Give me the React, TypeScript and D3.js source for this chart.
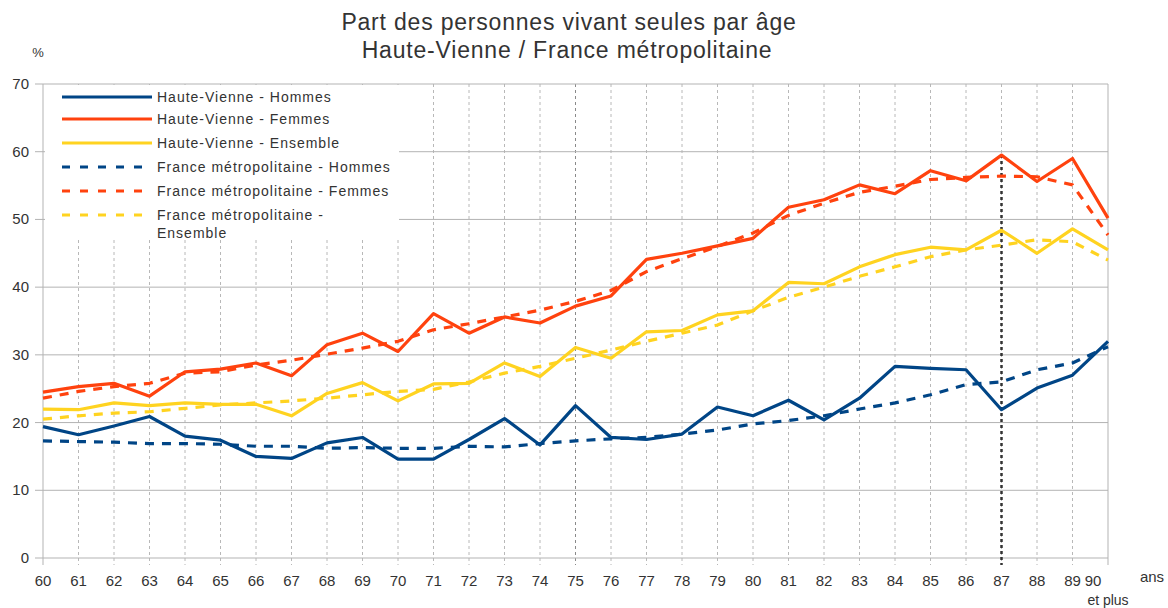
import * as d3 from 'd3'

const ages = d3.range(60, 91)
const yTicks = [0, 10, 20, 30, 40, 50, 60, 70]

const hvHommes = [19.4, 18.2, 19.5, 20.9, 18.0, 17.4, 15.0, 14.7, 17.0, 17.8, 14.6, 14.6, 17.5, 20.6, 16.7, 22.5, 17.8, 17.5, 18.3, 22.3, 21.0, 23.3, 20.4, 23.6, 28.3, 28.0, 27.8, 21.9, 25.1, 27.0, 32.0]
const hvFemmes = [24.5, 25.3, 25.8, 23.9, 27.5, 27.9, 28.8, 26.9, 31.5, 33.2, 30.5, 36.1, 33.2, 35.6, 34.7, 37.2, 38.7, 44.1, 45.0, 46.1, 47.2, 51.8, 52.9, 55.1, 53.8, 57.2, 55.7, 59.5, 55.6, 59.0, 50.2]
const hvEnsemble = [22.0, 21.9, 22.9, 22.5, 22.9, 22.7, 22.7, 21.0, 24.3, 25.9, 23.2, 25.7, 25.8, 28.8, 26.8, 31.1, 29.5, 33.4, 33.6, 35.9, 36.5, 40.7, 40.5, 43.0, 44.8, 45.9, 45.5, 48.4, 45.0, 48.6, 45.5]
const frHommes = [17.3, 17.2, 17.1, 16.9, 16.9, 16.8, 16.5, 16.5, 16.2, 16.3, 16.2, 16.2, 16.5, 16.4, 16.9, 17.3, 17.6, 17.8, 18.3, 18.9, 19.8, 20.3, 21.0, 22.0, 22.9, 24.1, 25.6, 26.0, 27.8, 28.8, 31.2]
const frFemmes = [23.6, 24.6, 25.3, 25.8, 27.3, 27.5, 28.5, 29.2, 30.1, 31.0, 32.0, 33.7, 34.6, 35.6, 36.6, 37.9, 39.5, 42.3, 44.2, 46.0, 48.0, 50.6, 52.4, 54.0, 54.9, 55.9, 56.2, 56.4, 56.3, 55.1, 47.7]
const frEnsemble = [20.5, 21.0, 21.4, 21.6, 22.1, 22.6, 22.9, 23.2, 23.6, 24.1, 24.6, 24.9, 26.0, 27.3, 28.3, 29.5, 30.7, 32.0, 33.2, 34.4, 36.5, 38.5, 40.0, 41.6, 43.0, 44.5, 45.5, 46.2, 47.0, 46.7, 44.0]

const series = [
  { name: 'Haute-Vienne - Hommes', values: hvHommes, color: '#004586', dashed: false },
  { name: 'Haute-Vienne - Femmes', values: hvFemmes, color: '#ff420e', dashed: false },
  { name: 'Haute-Vienne - Ensemble', values: hvEnsemble, color: '#ffd320', dashed: false },
  { name: 'France métropolitaine - Hommes', values: frHommes, color: '#004586', dashed: true },
  { name: 'France métropolitaine - Femmes', values: frFemmes, color: '#ff420e', dashed: true },
  { name: 'France métropolitaine -\nEnsemble', values: frEnsemble, color: '#ffd320', dashed: true }
]

const markedAge = 87
const font = '"Liberation Sans", Arial, sans-serif'

export default function App() {
  const width = 1168
  const height = 608
  const x = d3.scaleLinear().domain([60, 90]).range([43, 1108])
  const y = d3.scaleLinear().domain([0, 70]).range([558, 84])

  const line = d3
    .line<number>()
    .x((_, i) => x(ages[i]))
    .y(d => y(d))

  const markIdx = ages.indexOf(markedAge)
  const markTop = d3.max(series, s => s.values[markIdx]) as number

  // dashed series first so the solid ones sit on top
  const drawOrder = [...series.filter(s => s.dashed), ...series.filter(s => !s.dashed)]

  return (
    <svg width={width} height={height} style={{ position: 'absolute', left: 0, top: 0, background: '#fff' }} fontFamily={font}>
      <text x={569} y={30} textAnchor="middle" fontSize={23} letterSpacing={0.8} fill="#333">Part des personnes vivant seules par âge</text>
      <text x={567} y={58} textAnchor="middle" fontSize={23} letterSpacing={0.8} fill="#333">Haute-Vienne / France métropolitaine</text>
      <text x={38} y={57} textAnchor="middle" fontSize={13} fill="#333">%</text>

      {/* vertical grid */}
      {ages.slice(1, -1).map(a => (
        <line key={'v' + a} x1={x(a)} x2={x(a)} y1={y(70)} y2={y(0) + 7}
          stroke={a === 75 ? '#8a8a8a' : '#b8b8b8'} strokeWidth={1} strokeDasharray="3,3" />
      ))}
      {/* horizontal grid */}
      {yTicks.map(t => (
        <line key={'h' + t} x1={x(60) - 8} x2={x(90)} y1={y(t)} y2={y(t)} stroke="#b3b3b3" strokeWidth={1} />
      ))}
      <line x1={x(60)} x2={x(60)} y1={y(70)} y2={y(0) + 7} stroke="#b3b3b3" />
      <line x1={x(90)} x2={x(90)} y1={y(70)} y2={y(0) + 7} stroke="#b3b3b3" />

      {yTicks.map(t => (
        <text key={'yl' + t} x={29} y={y(t) + 5} textAnchor="end" fontSize={15} fill="#333">{t}</text>
      ))}
      {ages.map(a => (
        a === 90 ? null :
        <text key={'xl' + a} x={x(a)} y={586} textAnchor="middle" fontSize={15} fill="#333">{a}</text>
      ))}
      <text x={x(90) - 15} y={586} textAnchor="middle" fontSize={15} fill="#333">90</text>
      <text x={x(90)} y={605} textAnchor="middle" fontSize={14} fill="#333">et plus</text>
      <text x={1152} y={582} textAnchor="middle" fontSize={15} fill="#333">ans</text>

      {/* drop line at 87 */}
      <line x1={x(markedAge)} x2={x(markedAge)} y1={y(markTop)} y2={y(0) + 7}
        stroke="#333" strokeWidth={2.5} strokeDasharray="3,3" />

      {drawOrder.map(s => (
        <path key={s.name} d={line(s.values) ?? ''} fill="none" stroke={s.color} strokeWidth={3.2}
          strokeDasharray={s.dashed ? '9,8' : undefined} strokeLinejoin="round" />
      ))}

      {/* legend */}
      <rect x={45} y={85} width={354} height={153} fill="#fff" />
      {series.map((s, i) => {
        const ly = [97, 119, 143, 167, 191, 215][i]
        const lines = s.name.split('\n')
        return (
          <g key={'lg' + i}>
            <line x1={62} x2={152} y1={ly} y2={ly} stroke={s.color} strokeWidth={3}
              strokeDasharray={s.dashed ? '8,10' : undefined} />
            {lines.map((t, j) => (
              <text key={j} x={157} y={ly + 5 + j * 18} fontSize={14} letterSpacing={1} fill="#333">{t}</text>
            ))}
          </g>
        )
      })}
    </svg>
  )
}
